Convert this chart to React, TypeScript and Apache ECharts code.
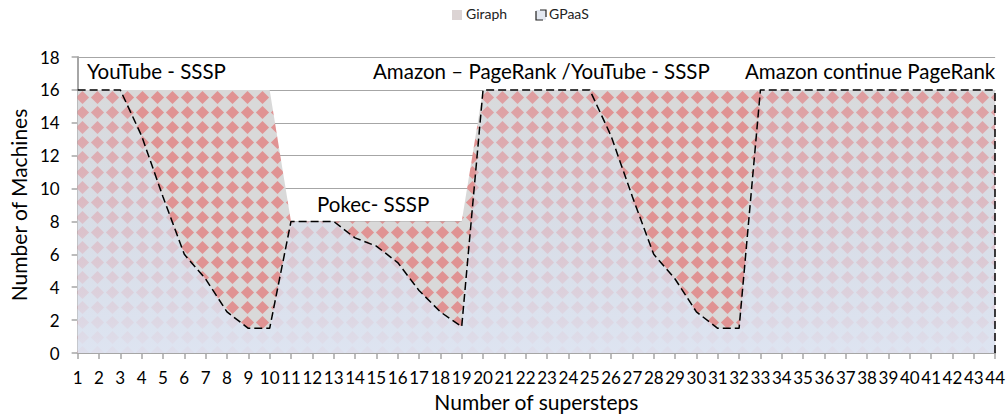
import React, { useEffect, useRef } from 'react';
import * as echarts from 'echarts';

const steps = ['1','2','3','4','5','6','7','8','9','10','11','12','13','14','15','16','17','18','19','20','21','22','23','24','25','26','27','28','29','30','31','32','33','34','35','36','37','38','39','40','41','42','43','44'];
const giraph = [16,16,16,16,16,16,16,16,16,16, 8,8,8,8,8,8,8,8,8, 16,16,16,16,16,16,16,16,16,16,16,16,16,16,16,16,16,16,16,16,16,16,16,16,16];
const gpaas = [16,16,16,13.2,9.5,6,4.5,2.5,1.5,1.5, 8,8,8,7,6.5,5.5,3.8,2.5,1.6, 16,16,16,16,16,16, 13.2,9.5,6,4.5,2.5,1.5,1.5, 16,16,16,16,16,16,16,16,16,16,16,16];
const seriesNames = ['Giraph', 'GPaaS'];
const annotations = ['YouTube - SSSP', 'Pokec- SSSP', 'Amazon \u2013 PageRank /YouTube - SSSP', 'Amazon continue PageRank'];
const xTitle = 'Number of supersteps';
const yTitle = 'Number of Machines';

const FONT = 'Lato';

const patternSvg =
  "<svg xmlns='http://www.w3.org/2000/svg' width='15' height='15'>" +
  "<rect width='15' height='15' fill='#d9d9d9'/>" +
  "<polygon points='7.5,0.9 14.1,7.5 7.5,14.1 0.9,7.5' fill='#e09393'/>" +
  "</svg>";
const patternUrl = 'data:image/svg+xml;charset=utf-8,' + encodeURIComponent(patternSvg);

export default function App() {
  const ref = useRef<HTMLDivElement>(null);
  useEffect(() => {
    const chart = echarts.init(ref.current!, null, { renderer: 'svg' });
    const gray = '#a6a6a6';
    const annFont = { fontFamily: FONT, fontSize: 20.5, fill: '#000', verticalAlign: 'middle' as const };
    chart.setOption({
      animation: false,
      backgroundColor: '#ffffff',
      grid: { left: 66, right: 12, top: 57, bottom: 63, containLabel: false },
      xAxis: {
        type: 'category',
        data: steps,
        boundaryGap: false,
        name: xTitle,
        nameLocation: 'middle',
        nameGap: 38,
        nameTextStyle: { fontFamily: FONT, fontSize: 21, color: '#000' },
        axisLine: { lineStyle: { color: gray, width: 2 } },
        axisTick: { show: true, interval: 0, length: 6, lineStyle: { color: gray, width: 1.5 } },
        axisLabel: { interval: 0, fontFamily: FONT, fontSize: 17, color: '#000', margin: 16 },
        splitLine: { show: false },
      },
      yAxis: {
        type: 'value',
        min: 0,
        max: 18,
        interval: 2,
        name: yTitle,
        nameLocation: 'middle',
        nameGap: 46,
        nameTextStyle: { fontFamily: FONT, fontSize: 21, color: '#000' },
        axisLine: { show: true, lineStyle: { color: gray, width: 2 } },
        axisTick: { show: true, length: 6, lineStyle: { color: gray, width: 1.5 } },
        axisLabel: { fontFamily: FONT, fontSize: 17, color: '#000', margin: 18 },
        splitLine: { show: true, lineStyle: { color: gray, width: 1 } },
      },
      series: [
        {
          name: seriesNames[0],
          type: 'line',
          data: giraph,
          symbol: 'none',
          lineStyle: { width: 0, opacity: 0 },
          areaStyle: {
            opacity: 1,
            color: { image: patternUrl, repeat: 'repeat', imageWidth: 15, imageHeight: 15 },
          },
          z: 2,
        },
        {
          name: seriesNames[1],
          type: 'line',
          data: gpaas,
          symbol: 'none',
          lineStyle: { color: '#000', width: 1.5, type: [8, 4] },
          areaStyle: {
            opacity: 1,
            color: new echarts.graphic.LinearGradient(0, 0, 0, 1, [
              { offset: 0, color: 'rgba(214,222,238,0.12)' },
              { offset: 0.5, color: 'rgba(216,224,240,0.58)' },
              { offset: 1, color: 'rgba(222,229,243,0.93)' },
            ]),
          },
          markLine: {
            silent: true,
            symbol: 'none',
            label: { show: false },
            lineStyle: { color: '#000', width: 1.5, type: [8, 4] },
            data: [[{ coord: [steps[steps.length - 1], 0] }, { coord: [steps[steps.length - 1], gpaas[gpaas.length - 1]] }]],
          },
          z: 3,
        },
      ],
      graphic: [
        { type: 'rect', left: 452, top: 10, shape: { width: 10, height: 10 }, style: { fill: '#dcd4d4' } },
        { type: 'text', left: 466, top: 6, style: { text: seriesNames[0], fontFamily: FONT, fontSize: 14, fill: '#222' } },
        { type: 'rect', left: 536, top: 10, shape: { width: 10, height: 10 }, style: { fill: '#e3e8f1' } },
        { type: 'polyline', x: 536, y: 10, shape: { points: [[0, 1], [0, 10], [7, 10]] }, style: { stroke: '#222', lineWidth: 1.2, fill: 'none' } },
        { type: 'polyline', x: 536, y: 10, shape: { points: [[4, 0], [10, 0], [10, 7]] }, style: { stroke: '#222', lineWidth: 1.2, fill: 'none' } },
        { type: 'text', left: 549, top: 6, style: { text: seriesNames[1], fontFamily: FONT, fontSize: 14, fill: '#222' } },
        { type: 'text', x: 87, y: 71, style: { text: annotations[0], ...annFont } },
        { type: 'text', x: 317, y: 204, style: { text: annotations[1], ...annFont } },
        { type: 'text', x: 373, y: 71, style: { text: annotations[2], ...annFont } },
        { type: 'text', x: 745, y: 71, style: { text: annotations[3], ...annFont } },
      ],
    });
    return () => chart.dispose();
  }, []);
  return <div ref={ref} style={{ position: 'fixed', left: 0, top: 0, width: 1008, height: 417 }} />;
}
